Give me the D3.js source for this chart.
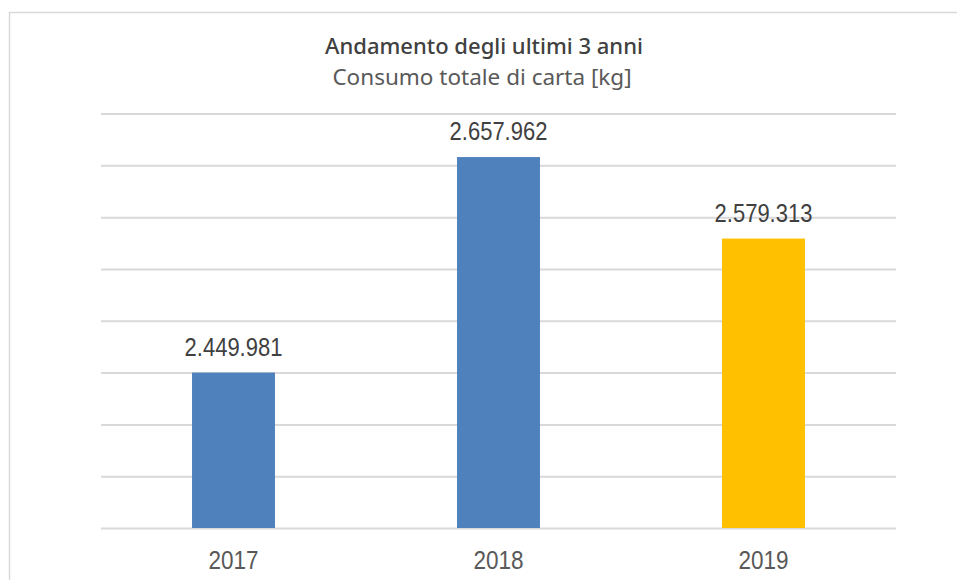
<!DOCTYPE html>
<html>
<head>
<meta charset="utf-8">
<script src="https://cdn.jsdelivr.net/npm/d3@7"></script>
<style>
  body { margin: 0; background: #fff; }
  svg { display: block; }
</style>
</head>
<body>
<script>
// chart data
var anni = ["2017", "2018", "2019"];
var consumo = [2449981, 2657962, 2579313];
var colori = ["#4f81bd", "#4f81bd", "#ffc000"];
var yTicks = [2300000, 2350000, 2400000, 2450000, 2500000, 2550000, 2600000, 2650000, 2700000];

var titolo = "Andamento degli ultimi 3 anni";
var sottotitolo = "Consumo totale di carta [kg]";

// layout
var W = 957, H = 580;
var margin = {left: 101, right: 61, top: 113.5, bottom: 52};
var numFont = "'Liberation Sans', Arial, sans-serif";

var svg = d3.select("body").append("svg")
    .attr("width", W)
    .attr("height", H);

// chart frame
svg.append("rect")
    .attr("x", 9.5).attr("y", 12.5)
    .attr("width", W + 20).attr("height", H + 20)
    .attr("fill", "none")
    .attr("stroke", "#d9d9d9")
    .attr("stroke-width", 1.5);

var x = d3.scaleBand()
    .domain(anni)
    .range([margin.left, W - margin.right])
    .paddingInner(0.687)
    .paddingOuter(0.3435);

var y = d3.scaleLinear()
    .domain([d3.min(yTicks), d3.max(yTicks)])
    .range([H - margin.bottom, margin.top]);

// gridlines
svg.append("g")
    .attr("transform", "translate(" + margin.left + ",0)")
    .call(d3.axisLeft(y)
        .tickValues(yTicks)
        .tickSize(-(W - margin.left - margin.right))
        .tickFormat(""))
    .call(function(g) { g.select(".domain").remove(); })
    .selectAll("line")
        .attr("stroke", "#d9d9d9")
        .attr("stroke-width", 2);

// bars
svg.selectAll("rect.bar")
    .data(anni)
    .join("rect")
        .attr("class", "bar")
        .attr("x", function(d) { return x(d); })
        .attr("width", x.bandwidth())
        .attr("y", function(d, i) { return y(consumo[i]); })
        .attr("height", function(d, i) { return y(yTicks[0]) - y(consumo[i]); })
        .attr("fill", function(d, i) { return colori[i]; });

// value labels, italian format
var it = d3.formatLocale({decimal: ",", thousands: ".", grouping: [3], currency: ["€", ""]});
var fmt = it.format(",d");

// the original font is tall and narrow: stretch a bit vertically
svg.selectAll("text.val")
    .data(anni)
    .join("text")
        .attr("class", "val")
        .attr("transform", function(d, i) {
            return "translate(" + (x(d) + x.bandwidth() / 2) + "," + (y(consumo[i]) - 17) + ") scale(1,1.18)";
        })
        .attr("text-anchor", "middle")
        .attr("font-family", numFont)
        .attr("font-size", 22)
        .attr("fill", "#404040")
        .text(function(d, i) { return fmt(consumo[i]); });

// x axis labels
svg.append("g")
    .attr("transform", "translate(0," + (H - margin.bottom) + ")")
    .call(d3.axisBottom(x).tickSize(0).tickPadding(0))
    .call(function(g) { g.select(".domain").remove(); })
    .selectAll("text")
        .attr("dy", null)
        .attr("y", 0)
        .attr("transform", "translate(0,40.5) scale(1,1.13)")
        .attr("font-family", numFont)
        .attr("font-size", 22.5)
        .attr("fill", "#595959");

// titles
svg.append("text")
    .attr("x", 484).attr("y", 54)
    .attr("text-anchor", "middle")
    .attr("font-family", "'Noto Sans', sans-serif")
    .attr("font-weight", 500)
    .attr("font-size", 22)
    .attr("fill", "#404040")
    .text(titolo);

svg.append("text")
    .attr("x", 482).attr("y", 85)
    .attr("text-anchor", "middle")
    .attr("font-family", "'Noto Sans', sans-serif")
    .attr("font-size", 22.5)
    .attr("fill", "#595959")
    .text(sottotitolo);
</script>
</body>
</html>
